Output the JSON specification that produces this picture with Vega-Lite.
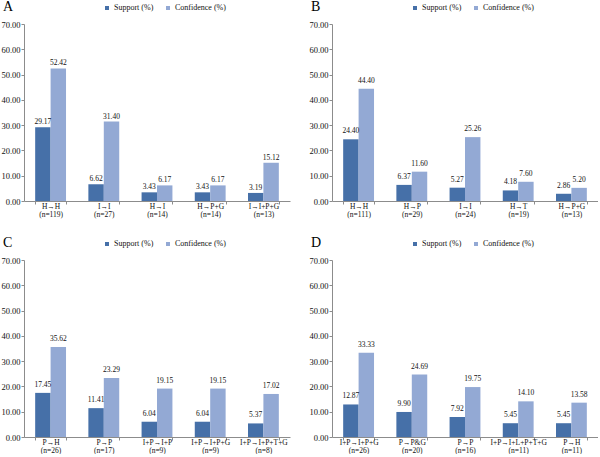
{
  "$schema": "https://vega.github.io/schema/vega-lite/v6.json",
  "padding": {"left": 0, "top": 0, "right": 0, "bottom": 0},
  "background": "white",
  "data": {"values": [
    {"panel": "A", "rule": "H→H|(n=119)", "measure": "Support (%)", "value": 29.17},
    {"panel": "A", "rule": "H→H|(n=119)", "measure": "Confidence (%)", "value": 52.42},
    {"panel": "A", "rule": "I→I|(n=27)", "measure": "Support (%)", "value": 6.62},
    {"panel": "A", "rule": "I→I|(n=27)", "measure": "Confidence (%)", "value": 31.40},
    {"panel": "A", "rule": "H→I|(n=14)", "measure": "Support (%)", "value": 3.43},
    {"panel": "A", "rule": "H→I|(n=14)", "measure": "Confidence (%)", "value": 6.17},
    {"panel": "A", "rule": "H→P+G|(n=14)", "measure": "Support (%)", "value": 3.43},
    {"panel": "A", "rule": "H→P+G|(n=14)", "measure": "Confidence (%)", "value": 6.17},
    {"panel": "A", "rule": "I→I+P+G|(n=13)", "measure": "Support (%)", "value": 3.19},
    {"panel": "A", "rule": "I→I+P+G|(n=13)", "measure": "Confidence (%)", "value": 15.12},
    {"panel": "B", "rule": "H→H|(n=111)", "measure": "Support (%)", "value": 24.40},
    {"panel": "B", "rule": "H→H|(n=111)", "measure": "Confidence (%)", "value": 44.40},
    {"panel": "B", "rule": "H→P|(n=29)", "measure": "Support (%)", "value": 6.37},
    {"panel": "B", "rule": "H→P|(n=29)", "measure": "Confidence (%)", "value": 11.60},
    {"panel": "B", "rule": "I→I|(n=24)", "measure": "Support (%)", "value": 5.27},
    {"panel": "B", "rule": "I→I|(n=24)", "measure": "Confidence (%)", "value": 25.26},
    {"panel": "B", "rule": "H→T|(n=19)", "measure": "Support (%)", "value": 4.18},
    {"panel": "B", "rule": "H→T|(n=19)", "measure": "Confidence (%)", "value": 7.60},
    {"panel": "B", "rule": "H→P+G|(n=13)", "measure": "Support (%)", "value": 2.86},
    {"panel": "B", "rule": "H→P+G|(n=13)", "measure": "Confidence (%)", "value": 5.20},
    {"panel": "C", "rule": "P→H|(n=26)", "measure": "Support (%)", "value": 17.45},
    {"panel": "C", "rule": "P→H|(n=26)", "measure": "Confidence (%)", "value": 35.62},
    {"panel": "C", "rule": "P→P|(n=17)", "measure": "Support (%)", "value": 11.41},
    {"panel": "C", "rule": "P→P|(n=17)", "measure": "Confidence (%)", "value": 23.29},
    {"panel": "C", "rule": "I+P→I+P|(n=9)", "measure": "Support (%)", "value": 6.04},
    {"panel": "C", "rule": "I+P→I+P|(n=9)", "measure": "Confidence (%)", "value": 19.15},
    {"panel": "C", "rule": "I+P→I+P+G|(n=9)", "measure": "Support (%)", "value": 6.04},
    {"panel": "C", "rule": "I+P→I+P+G|(n=9)", "measure": "Confidence (%)", "value": 19.15},
    {"panel": "C", "rule": "I+P→I+P+T+G|(n=8)", "measure": "Support (%)", "value": 5.37},
    {"panel": "C", "rule": "I+P→I+P+T+G|(n=8)", "measure": "Confidence (%)", "value": 17.02},
    {"panel": "D", "rule": "I+P→I+P+G|(n=26)", "measure": "Support (%)", "value": 12.87},
    {"panel": "D", "rule": "I+P→I+P+G|(n=26)", "measure": "Confidence (%)", "value": 33.33},
    {"panel": "D", "rule": "P→P&G|(n=20)", "measure": "Support (%)", "value": 9.90},
    {"panel": "D", "rule": "P→P&G|(n=20)", "measure": "Confidence (%)", "value": 24.69},
    {"panel": "D", "rule": "P→P|(n=16)", "measure": "Support (%)", "value": 7.92},
    {"panel": "D", "rule": "P→P|(n=16)", "measure": "Confidence (%)", "value": 19.75},
    {"panel": "D", "rule": "I+P→I+L+P+T+G|(n=11)", "measure": "Support (%)", "value": 5.45},
    {"panel": "D", "rule": "I+P→I+L+P+T+G|(n=11)", "measure": "Confidence (%)", "value": 14.10},
    {"panel": "D", "rule": "P→H|(n=11)", "measure": "Support (%)", "value": 5.45},
    {"panel": "D", "rule": "P→H|(n=11)", "measure": "Confidence (%)", "value": 13.58}
  ]},
  "config": {
    "font": "Liberation Serif",
    "view": {"stroke": null},
    "axis": {"labelFont": "Liberation Serif", "labelColor": "#111111", "domainColor": "#8c8c8c", "tickColor": "#8c8c8c", "grid": false, "title": null, "tickSize": 3},
    "axisY": {"labelFontSize": 8.5, "labelPadding": 1},
    "axisX": {"labelFontSize": 7.5, "labelLineHeight": 8.5, "labelPadding": -2, "labelAngle": 0, "labelOverlap": false, "labelBound": false, "labelLimit": 120},
    "legend": {"orient": "none", "legendX": 79, "legendY": -20, "direction": "horizontal", "columns": 2, "symbolType": "square", "symbolSize": 16, "symbolStrokeWidth": 0, "labelFont": "Liberation Serif", "labelFontSize": 8, "labelColor": "#111111", "labelOffset": 3, "columnPadding": 10, "title": null},
    "title": {"font": "Liberation Serif", "fontSize": 14, "fontWeight": "normal", "anchor": "start", "frame": "bounds", "color": "#000000", "offset": -10, "dx": 2}
  },
  "columns": 2,
  "spacing": {"row": 59, "column": 42},
  "bounds": "flush",
  "resolve": {"scale": {"x": "independent", "xOffset": "independent", "color": "independent"}, "legend": {"color": "independent"}},
  "concat": [
    {
      "title": "A",
      "width": 266, "height": 177,
      "transform": [{"filter": "datum.panel === 'A'"}],
      "encoding": {
        "x": {"field": "rule", "type": "nominal", "sort": null, "scale": {"paddingInner": 0.42, "paddingOuter": 0.21}, "axis": {"labelExpr": "split(datum.label, '|')", "tickBand": "extent"}},
        "xOffset": {"field": "measure", "type": "nominal", "sort": ["Support (%)", "Confidence (%)"]},
        "y": {"field": "value", "type": "quantitative", "scale": {"domain": [0, 70]}, "axis": {"values": [0, 10, 20, 30, 40, 50, 60, 70], "format": ".2f"}}
      },
      "layer": [
        {"mark": {"type": "bar"}, "encoding": {"color": {"field": "measure", "type": "nominal", "sort": ["Support (%)", "Confidence (%)"], "scale": {"domain": ["Support (%)", "Confidence (%)"], "range": ["#4670A8", "#93A9D4"]}}}},
        {"mark": {"type": "text", "dy": -5, "fontSize": 7.5, "color": "#111111"}, "encoding": {"text": {"field": "value", "type": "quantitative", "format": ".2f"}}}
      ]
    },
    {
      "title": "B",
      "width": 266, "height": 177,
      "transform": [{"filter": "datum.panel === 'B'"}],
      "encoding": {
        "x": {"field": "rule", "type": "nominal", "sort": null, "scale": {"paddingInner": 0.42, "paddingOuter": 0.21}, "axis": {"labelExpr": "split(datum.label, '|')", "tickBand": "extent"}},
        "xOffset": {"field": "measure", "type": "nominal", "sort": ["Support (%)", "Confidence (%)"]},
        "y": {"field": "value", "type": "quantitative", "scale": {"domain": [0, 70]}, "axis": {"values": [0, 10, 20, 30, 40, 50, 60, 70], "format": ".2f"}}
      },
      "layer": [
        {"mark": {"type": "bar"}, "encoding": {"color": {"field": "measure", "type": "nominal", "sort": ["Support (%)", "Confidence (%)"], "scale": {"domain": ["Support (%)", "Confidence (%)"], "range": ["#4670A8", "#93A9D4"]}}}},
        {"mark": {"type": "text", "dy": -8, "fontSize": 7.5, "color": "#111111"}, "encoding": {"text": {"field": "value", "type": "quantitative", "format": ".2f"}}}
      ]
    },
    {
      "title": "C",
      "width": 266, "height": 177,
      "transform": [{"filter": "datum.panel === 'C'"}],
      "encoding": {
        "x": {"field": "rule", "type": "nominal", "sort": null, "scale": {"paddingInner": 0.42, "paddingOuter": 0.21}, "axis": {"labelExpr": "split(datum.label, '|')", "tickBand": "extent"}},
        "xOffset": {"field": "measure", "type": "nominal", "sort": ["Support (%)", "Confidence (%)"]},
        "y": {"field": "value", "type": "quantitative", "scale": {"domain": [0, 70]}, "axis": {"values": [0, 10, 20, 30, 40, 50, 60, 70], "format": ".2f"}}
      },
      "layer": [
        {"mark": {"type": "bar"}, "encoding": {"color": {"field": "measure", "type": "nominal", "sort": ["Support (%)", "Confidence (%)"], "scale": {"domain": ["Support (%)", "Confidence (%)"], "range": ["#4670A8", "#93A9D4"]}}}},
        {"mark": {"type": "text", "dy": -8, "fontSize": 7.5, "color": "#111111"}, "encoding": {"text": {"field": "value", "type": "quantitative", "format": ".2f"}}}
      ]
    },
    {
      "title": "D",
      "width": 266, "height": 177,
      "transform": [{"filter": "datum.panel === 'D'"}],
      "encoding": {
        "x": {"field": "rule", "type": "nominal", "sort": null, "scale": {"paddingInner": 0.42, "paddingOuter": 0.21}, "axis": {"labelExpr": "split(datum.label, '|')", "tickBand": "extent"}},
        "xOffset": {"field": "measure", "type": "nominal", "sort": ["Support (%)", "Confidence (%)"]},
        "y": {"field": "value", "type": "quantitative", "scale": {"domain": [0, 70]}, "axis": {"values": [0, 10, 20, 30, 40, 50, 60, 70], "format": ".2f"}}
      },
      "layer": [
        {"mark": {"type": "bar"}, "encoding": {"color": {"field": "measure", "type": "nominal", "sort": ["Support (%)", "Confidence (%)"], "scale": {"domain": ["Support (%)", "Confidence (%)"], "range": ["#4670A8", "#93A9D4"]}}}},
        {"mark": {"type": "text", "dy": -8, "fontSize": 7.5, "color": "#111111"}, "encoding": {"text": {"field": "value", "type": "quantitative", "format": ".2f"}}}
      ]
    }
  ]
}
